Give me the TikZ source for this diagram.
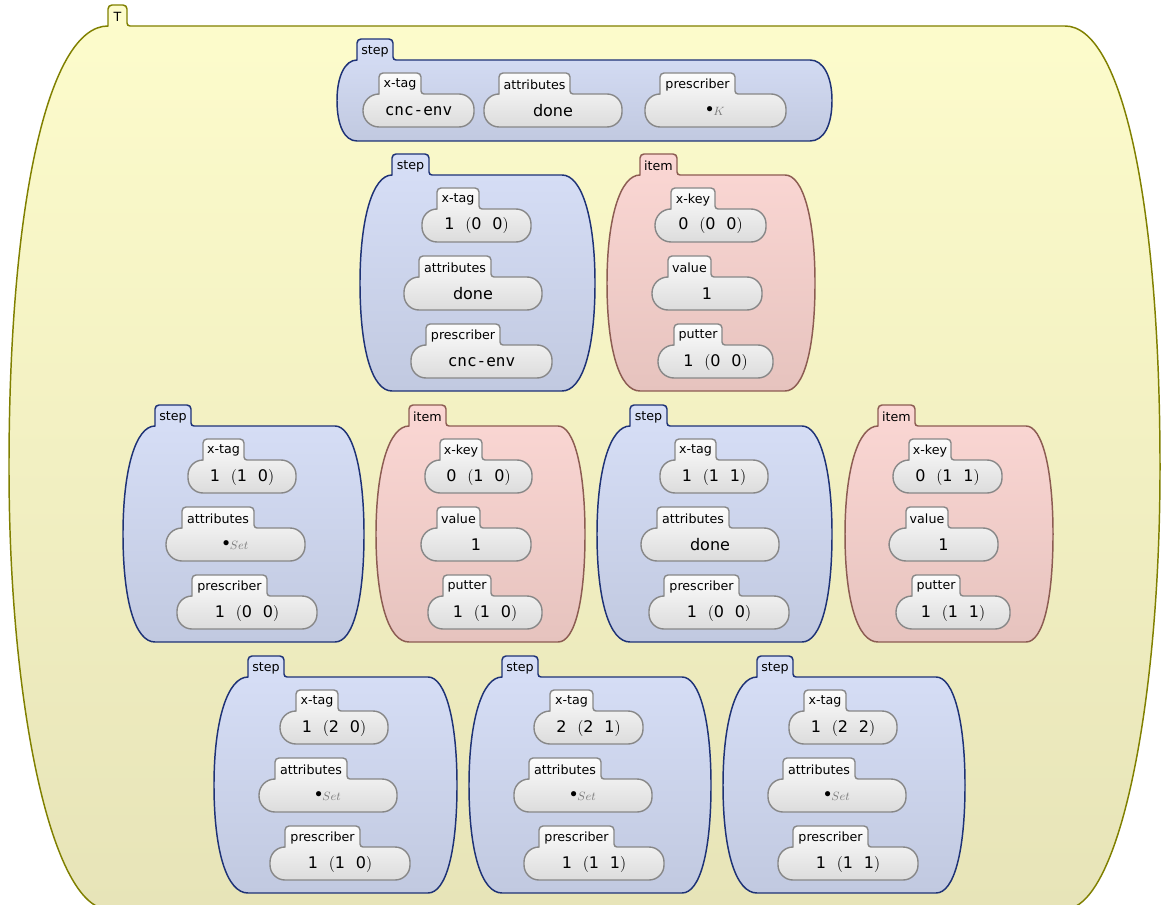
\documentclass[tikz,border=0pt]{standalone}
\usepackage{fontspec}
\setmainfont{DejaVu Sans}
\setmonofont{DejaVu Sans Mono}

\definecolor{tTop}{RGB}{253,252,204}
\definecolor{tBot}{RGB}{231,228,184}
\definecolor{tLine}{RGB}{128,128,0}
\definecolor{stepTop}{RGB}{215,223,247}
\definecolor{stepBot}{RGB}{193,201,224}
\definecolor{stepLine}{RGB}{30,50,118}
\definecolor{itemTop}{RGB}{251,215,212}
\definecolor{itemBot}{RGB}{230,195,190}
\definecolor{itemLine}{RGB}{140,92,82}
\definecolor{fieldTop}{RGB}{252,252,252}
\definecolor{fieldBot}{RGB}{220,220,220}
\definecolor{fieldLine}{RGB}{135,135,135}
\definecolor{subGray}{RGB}{125,125,125}

\tikzset{
  outerbody/.style={draw=tLine, line width=1.1pt, top color=tTop, bottom color=tBot},
  stepbody/.style={draw=stepLine, line width=1.1pt, top color=stepTop, bottom color=stepBot},
  itembody/.style={draw=itemLine, line width=1.1pt, top color=itemTop, bottom color=itemBot},
  fieldbody/.style={draw=fieldLine, line width=1.05pt, top color=fieldTop, bottom color=fieldBot},
  tablabel/.style={inner sep=0pt, anchor=center, font=\fontsize{9.5}{11}\selectfont},
  valuetext/.style={inner sep=0pt, anchor=center, font=\fontsize{12}{14}\selectfont},
}

% tuple value such as 1 (0 0)
\newcommand\tpl[3]{#1\hspace{0.68em}$($#2\hspace{0.68em}#3$)$}
% empty value with its kind as subscript
\newcommand\bsub[1]{{\fontsize{10}{12}\selectfont$\bullet$}\kern0.3pt\raisebox{-0.35ex}{\fontsize{9}{10}\selectfont\textcolor{subGray}{$#1$}}}

% body geometry: xl, left corner (= tab left), tab right, right corner, xr, top, bottom
\def\parsebody#1,#2,#3,#4,#5,#6,#7\relax{%
  \def\gXL{#1}\def\gCL{#2}\def\gTR{#3}\def\gCR{#4}\def\gXR{#5}\def\gYT{#6}\def\gYB{#7}}
% #1 style, #2 name, #3 label, #4 geometry, #5 bottom bulge
\newcommand\drawbody[5]{%
  \parsebody#4\relax
  \pgfmathsetmacro\gH{\gYB-\gYT}%
  \pgfmathsetmacro\gYM{(\gYT+\gYB)/2}%
  \pgfmathsetmacro\gAL{\gCL-\gXL}%
  \pgfmathsetmacro\gAR{\gXR-\gCR}%
  \pgfmathsetmacro\gTT{\gYT-21}%
  \path[#1] (\gCL,\gYT) -- (\gCL,{\gTT+4})
    .. controls (\gCL,{\gTT+1.8}) and ({\gCL+1.8},\gTT) .. ({\gCL+4},\gTT)
    -- ({\gTR-4},\gTT)
    .. controls ({\gTR-1.8},\gTT) and (\gTR,{\gTT+1.8}) .. (\gTR,{\gTT+4})
    -- (\gTR,{\gYT-3})
    .. controls (\gTR,{\gYT-1.3}) and ({\gTR+1.3},\gYT) .. ({\gTR+3},\gYT)
    -- (\gCR,\gYT)
    .. controls ({\gCR+0.6*\gAR},\gYT) and (\gXR,{\gYM-0.6*\gH/2}) .. (\gXR,\gYM)
    .. controls (\gXR,{\gYM+#5*\gH/2}) and ({\gCR+#5*\gAR},\gYB) .. (\gCR,\gYB)
    -- (\gCL,\gYB)
    .. controls ({\gCL-#5*\gAL},\gYB) and (\gXL,{\gYM+#5*\gH/2}) .. (\gXL,\gYM)
    .. controls (\gXL,{\gYM-0.6*\gH/2}) and ({\gCL-0.6*\gAL},\gYT) .. (\gCL,\gYT)
    -- cycle;
  \node[tablabel] (#2) at ({(\gCL+\gTR)/2},{\gTT+12}) {#3};
}

% field geometry: xl, tab left, tab right, xr, top
\def\parsefield#1,#2,#3,#4,#5\relax{%
  \def\fXL{#1}\def\fTL{#2}\def\fTR{#3}\def\fXR{#4}\def\fYT{#5}}
% #1 name, #2 label, #3 geometry, #4 value
\newcommand\drawfield[4]{%
  \parsefield#3\relax
  \pgfmathsetmacro\fYB{\fYT+33}%
  \pgfmathsetmacro\fTT{\fYT-21}%
  \pgfmathsetmacro\fRL{\fTL-\fXL}%
  \path[fieldbody] (\fTL,\fYT) -- (\fTL,{\fTT+4})
    .. controls (\fTL,{\fTT+1.8}) and ({\fTL+1.8},\fTT) .. ({\fTL+4},\fTT)
    -- ({\fTR-4},\fTT)
    .. controls ({\fTR-1.8},\fTT) and (\fTR,{\fTT+1.8}) .. (\fTR,{\fTT+4})
    -- (\fTR,{\fYT-3})
    .. controls (\fTR,{\fYT-1.3}) and ({\fTR+1.3},\fYT) .. ({\fTR+3},\fYT)
    -- ({\fXR-15},\fYT)
    .. controls ({\fXR-6.7},\fYT) and (\fXR,{\fYT+6.7}) .. (\fXR,{\fYT+15})
    -- (\fXR,{\fYB-15})
    .. controls (\fXR,{\fYB-6.7}) and ({\fXR-6.7},\fYB) .. ({\fXR-15},\fYB)
    -- ({\fXL+\fRL},\fYB)
    .. controls ({\fXL+0.448*\fRL},\fYB) and (\fXL,{\fYB-0.448*\fRL}) .. (\fXL,{\fYB-\fRL})
    -- (\fXL,{\fYT+\fRL})
    .. controls (\fXL,{\fYT+0.448*\fRL}) and ({\fXL+0.448*\fRL},\fYT) .. (\fTL,\fYT)
    -- cycle;
  \node[tablabel] (#1-tab) at ({(\fTL+\fTR)/2},{\fTT+11.8}) {#2};
  \node[valuetext] (#1) at ({(\fXL+\fXR)/2},{\fYT+17}) {#4};
}

\begin{document}
\begin{tikzpicture}[x=0.75pt, y=-0.75pt]
\useasboundingbox (0,0) rectangle (1162,905);
\clip (0,0) rectangle (1162,905);

% outer container
\drawbody{outerbody}{T}{T}{9,108,127,1065,1160,26,909}{0.552}

% top step
\drawbody{stepbody}{s0}{step}{337,357,393,810,832,60,141}{0.62}
\drawfield{s0-xtag}{x-tag}{363,379,421,474,94}{\texttt{cnc-env}}
\drawfield{s0-attr}{attributes}{484,499,570,622,94}{done}
\drawfield{s0-pres}{prescriber}{645,660,735,786,94}{\bsub{K}}

% second row
\drawbody{stepbody}{s1}{step}{360,392,429,562,595,175,391}{0.62}
\drawfield{s1-xtag}{x-tag}{422,437,479,531,209}{\tpl{1}{0}{0}}
\drawfield{s1-attr}{attributes}{404,419,491,542,277}{done}
\drawfield{s1-pres}{prescriber}{411,426,500,552,345}{\texttt{cnc-env}}

\drawbody{itembody}{i1}{item}{607,640,677,785,815,175,391}{0.62}
\drawfield{i1-xkey}{x-key}{655,671,715,766,209}{\tpl{0}{0}{0}}
\drawfield{i1-val}{value}{652,668,711,762,277}{1}
\drawfield{i1-put}{putter}{658,674,722,773,345}{\tpl{1}{0}{0}}

% third row
\drawbody{stepbody}{s2}{step}{123,155,191,335,364,426,642}{0.62}
\drawfield{s2-xtag}{x-tag}{188,203,244,296,460}{\tpl{1}{1}{0}}
\drawfield{s2-attr}{attributes}{166,182,254,305,528}{\bsub{Set}}
\drawfield{s2-pres}{prescriber}{177,192,267,317,596}{\tpl{1}{0}{0}}

\drawbody{itembody}{i2}{item}{376,409,446,558,585,426,642}{0.62}
\drawfield{i2-xkey}{x-key}{425,440,482,532,460}{\tpl{0}{1}{0}}
\drawfield{i2-val}{value}{421,437,480,531,528}{1}
\drawfield{i2-put}{putter}{428,443,491,542,596}{\tpl{1}{1}{0}}

\drawbody{stepbody}{s3}{step}{597,630,667,802,832,426,642}{0.62}
\drawfield{s3-xtag}{x-tag}{660,675,716,768,460}{\tpl{1}{1}{1}}
\drawfield{s3-attr}{attributes}{641,657,729,779,528}{done}
\drawfield{s3-pres}{prescriber}{649,664,739,789,596}{\tpl{1}{0}{0}}

\drawbody{itembody}{i4}{item}{845,878,915,1026,1053,426,642}{0.62}
\drawfield{i4-xkey}{x-key}{893,909,951,1002,460}{\tpl{0}{1}{1}}
\drawfield{i4-val}{value}{889,906,948,998,528}{1}
\drawfield{i4-put}{putter}{896,912,960,1010,596}{\tpl{1}{1}{1}}

% bottom row
\drawbody{stepbody}{s5}{step}{214,248,284,428,457,677,893}{0.62}
\drawfield{s5-xtag}{x-tag}{280,296,338,388,711}{\tpl{1}{2}{0}}
\drawfield{s5-attr}{attributes}{259,275,347,397,779}{\bsub{Set}}
\drawfield{s5-pres}{prescriber}{270,285,360,410,847}{\tpl{1}{1}{0}}

\drawbody{stepbody}{s6}{step}{469,502,538,682,711,677,893}{0.62}
\drawfield{s6-xtag}{x-tag}{534,550,593,643,711}{\tpl{2}{2}{1}}
\drawfield{s6-attr}{attributes}{514,529,601,652,779}{\bsub{Set}}
\drawfield{s6-pres}{prescriber}{524,539,614,664,847}{\tpl{1}{1}{1}}

\drawbody{stepbody}{s7}{step}{723,757,793,936,965,677,893}{0.62}
\drawfield{s7-xtag}{x-tag}{789,804,846,897,711}{\tpl{1}{2}{2}}
\drawfield{s7-attr}{attributes}{768,783,855,906,779}{\bsub{Set}}
\drawfield{s7-pres}{prescriber}{778,793,868,918,847}{\tpl{1}{1}{1}}
\end{tikzpicture}
\end{document}
